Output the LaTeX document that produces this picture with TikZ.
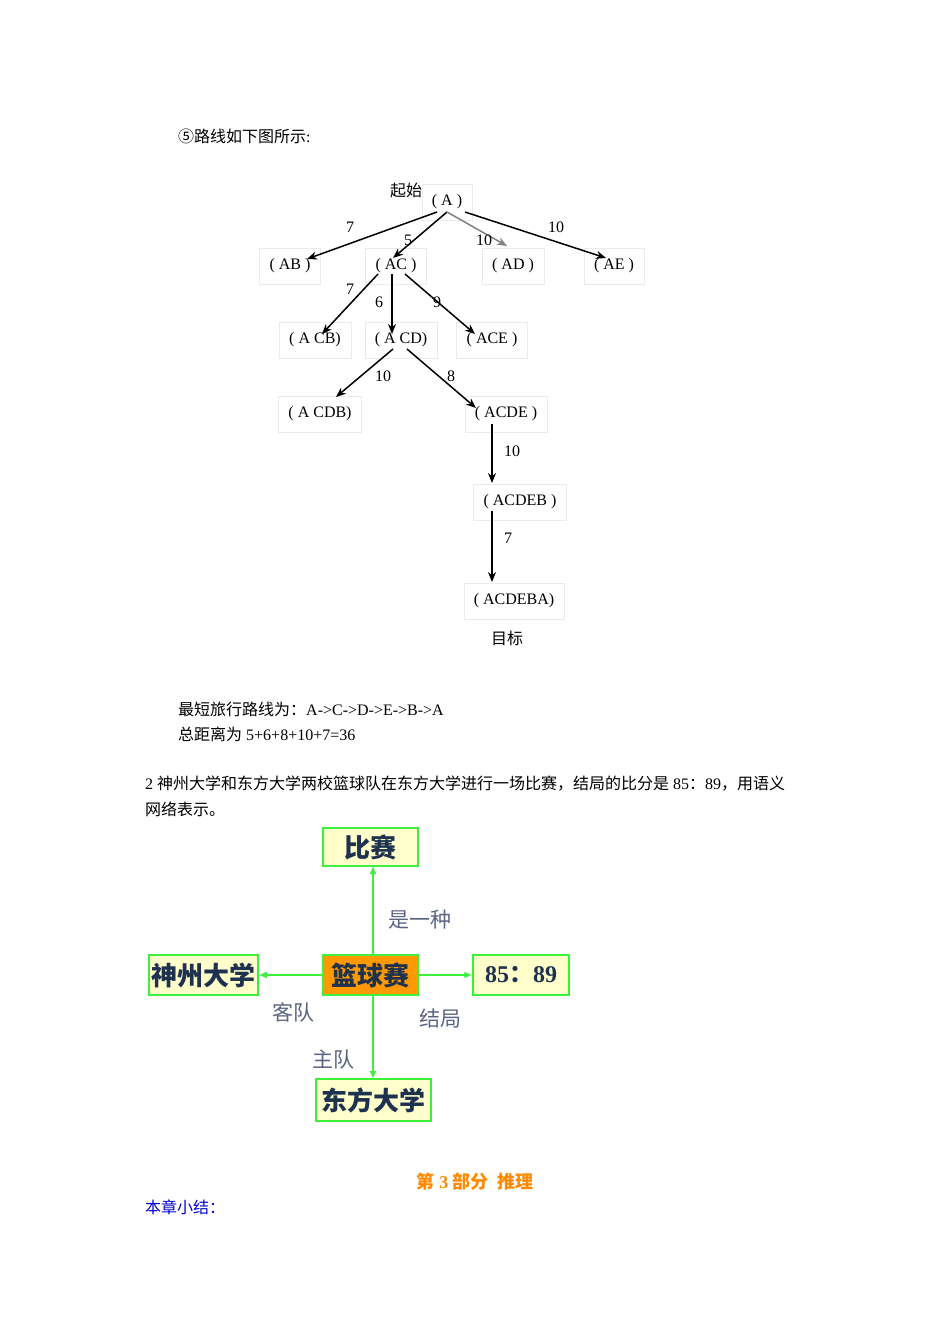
\documentclass[tikz,border=0pt]{standalone}
\usetikzlibrary{arrows.meta}
\usepackage{fontspec}
\setmainfont{Liberation Serif}
\newfontfamily\cjk{Noto Sans CJK SC}
\newcommand{\C}[1]{{\cjk #1}}
\definecolor{gline}{RGB}{60,240,60}
\definecolor{ybox}{RGB}{255,255,204}
\definecolor{navy}{RGB}{30,50,80}
\definecolor{lab}{RGB}{90,100,130}
\definecolor{orng}{RGB}{255,153,0}
\begin{document}
\begin{tikzpicture}[x=1pt,y=-1pt,
  t/.style={font=\fontsize{16}{16}\selectfont,inner sep=0pt},
  tn/.style={t,draw=black!8,minimum height=36,inner xsep=10pt},
  e/.style={-{Stealth[length=10pt,width=8pt]},line width=1.5pt},
  sbox/.style={draw=gline,line width=1.5pt,fill=ybox,inner sep=0pt,font=\fontsize{26}{26}\selectfont\cjk\bfseries\color{navy}},
  sl/.style={font=\fontsize{21}{21}\selectfont\cjk\color{lab},inner sep=0pt},
  ga/.style={-{Latex[length=8pt,width=7pt]},draw=gline,line width=1.5pt}]
\useasboundingbox (0,0) rectangle (950,1344);
\node[t,anchor=west] (h) at (178,136) {\C{⑤路线如下图所示}:};
\node[t] (s) at (406,190) {\C{起始}};
\node[tn] (A) at (447,202) {( A )};
\node[tn] (AB) at (290,266) {( AB )};
\node[tn] (AC) at (396,266) {( AC )};
\node[tn] (AD) at (513,266) {( AD )};
\node[tn] (AE) at (614,266) {( AE )};
\node[tn] (ACB) at (315,340) {( A CB)};
\node[tn] (ACD) at (401,340) {( A CD)};
\node[tn] (ACE) at (492,340) {( ACE )};
\node[tn] (ACDB) at (320,414) {( A CDB)};
\node[tn] (ACDE) at (506,414) {( ACDE )};
\node[tn] (ACDEB) at (520,502) {( ACDEB )};
\node[tn] (ACDEBA) at (514,601) {( ACDEBA)};
\node[t] (g) at (507,638) {\C{目标}};
\draw[e] (437,212) -- (307,259);
\draw[e] (447,212) -- (393,258);
\draw[e,gray] (447,212) -- (507,246);
\draw[e] (465,212) -- (606,258);
\draw[e] (378,274) -- (322,334);
\draw[e] (392,274) -- (392,334);
\draw[e] (405,274) -- (475,334);
\draw[e] (393,349) -- (336,397);
\draw[e] (407,349) -- (476,408);
\draw[e] (492,424) -- (492,483);
\draw[e] (492,511) -- (492,582);
\foreach \x/\y/\l in {350/227/7,408/240/5,484/240/10,556/227/10,350/289/7,379/302/6,437/302/9,383/376/10,451/376/8,512/451/10,508/538/7}
  \node[t] at (\x,\y) {\l};
\node[t,anchor=west] (p1) at (178,709) {\C{最短旅行路线为：}A->C->D->E->B->A};
\node[t,anchor=west] (p2) at (178,734) {\C{总距离为} 5+6+8+10+7=36};
\node[t,anchor=west] (p3) at (145,784) {2 \C{神州大学和东方大学两校篮球队在东方大学进行一场比赛，结局的比分是} 85\C{：}89\C{，用语义}};
\node[t,anchor=west] (p4) at (145,809) {\C{网络表示。}};
\node[sbox,minimum width=95,minimum height=38] (bs) at (370.5,847) {比赛};
\node[sbox,fill=orng,minimum width=95,minimum height=40] (lq) at (370.5,975) {篮球赛};
\node[sbox,minimum width=109,minimum height=40] (sz) at (203.5,975) {神州大学};
\node[sbox,minimum width=96,minimum height=40,font=\fontsize{24}{24}\selectfont\bfseries\color{navy}] (sc) at (521,975) {85\C{：}89};
\node[sbox,minimum width=115,minimum height=42] (df) at (373.5,1100) {东方大学};
\draw[ga] (373,955) -- (373,866);
\draw[ga] (lq.west) -- (sz.east);
\draw[ga] (lq.east) -- (sc.west);
\draw[ga] (373,995) -- (373,1079);
\node[sl] (l1) at (420,920) {是一种};
\node[sl] (l2) at (293,1012) {客队};
\node[sl] (l3) at (440,1018) {结局};
\node[sl] (l4) at (333,1060) {主队};
\node[t,font=\fontsize{18}{18}\selectfont\bfseries,text=orng!90!red] (ti) at (475,1182) {\C{第} 3 \C{部分\ \ 推理}};
\node[t,anchor=west,text=blue!80!black] (sm) at (145,1207) {\C{本章小结：}};
\end{tikzpicture}
\end{document}
